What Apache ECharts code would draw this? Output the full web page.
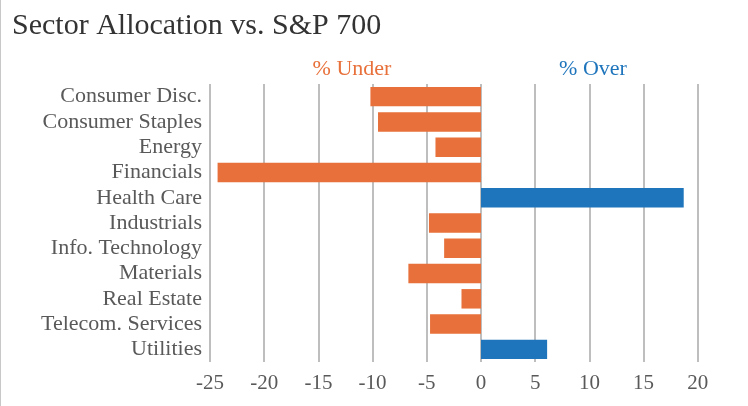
<!DOCTYPE html>
<html>
<head>
<meta charset="utf-8">
<script src="https://cdn.jsdelivr.net/npm/echarts@6/dist/echarts.min.js"></script>
<style>
  html, body { margin: 0; padding: 0; background: #fff; }
  #frame { width: 748px; height: 406px; box-sizing: border-box; border-left: 1px solid #c8c8c8; overflow: hidden; }
  #chart { width: 770px; height: 406px; }
</style>
</head>
<body>
<div id="frame"><div id="chart"></div></div>
<script>
// sectors, top to bottom
const sectors = [
  'Consumer Disc.', 'Consumer Staples', 'Energy', 'Financials', 'Health Care',
  'Industrials', 'Info. Technology', 'Materials', 'Real Estate',
  'Telecom. Services', 'Utilities'
];
// over/under weight vs. S&P 700, in %
const weights = [-10.2, -9.5, -4.2, -24.3, 18.7, -4.8, -3.4, -6.7, -1.8, -4.7, 6.1];
const xTicks = [-25, -20, -15, -10, -5, 0, 5, 10, 15, 20];

const FONT = '"Liberation Serif", "DejaVu Serif", serif';
const ORANGE = '#e8703a';
const BLUE = '#1f75bc';

const under = weights.map(v => (v < 0 ? v : null));
const over = weights.map(v => (v >= 0 ? v : null));

const chart = echarts.init(document.getElementById('chart'));

const option = {
  backgroundColor: '#fff',
  animation: false,
  title: [
    {
      text: 'Sector Allocation vs. S&P 700',
      left: 6,
      top: 6,
      textStyle: { fontFamily: FONT, fontSize: 30, fontWeight: 'normal', color: '#333' }
    },
    {
      text: '% Under',
      left: 346,
      top: 53,
      textAlign: 'center',
      textStyle: { fontFamily: FONT, fontSize: 22, fontWeight: 'normal', color: ORANGE }
    },
    {
      text: '% Over',
      left: 587,
      top: 53,
      textAlign: 'center',
      textStyle: { fontFamily: FONT, fontSize: 22, fontWeight: 'normal', color: BLUE }
    }
  ],
  grid: {
    left: 209,
    top: 84,
    width: 542,
    height: 278
  },
  xAxis: {
    type: 'value',
    min: xTicks[0],
    max: 25,
    interval: 5,
    axisLine: { show: false },
    axisTick: { show: false },
    axisLabel: {
      fontFamily: FONT,
      fontSize: 21,
      color: '#595959',
      margin: 11,
      showMaxLabel: false
    },
    splitLine: { show: true, lineStyle: { color: '#a9a9a9', width: 1.5 } }
  },
  yAxis: {
    type: 'category',
    inverse: true,
    data: sectors,
    axisLine: { show: false },
    axisTick: { show: false },
    axisLabel: {
      interval: 0,
      fontFamily: FONT,
      fontSize: 22,
      color: '#595959',
      margin: 8,
      padding: [5, 0, 0, 0]
    }
  },
  series: [
    {
      name: '% Under',
      type: 'bar',
      stack: 'w',
      data: under,
      barCategoryGap: '23%',
      itemStyle: { color: ORANGE }
    },
    {
      name: '% Over',
      type: 'bar',
      stack: 'w',
      data: over,
      barCategoryGap: '23%',
      itemStyle: { color: BLUE }
    }
  ]
};

chart.setOption(option);
</script>
</body>
</html>
